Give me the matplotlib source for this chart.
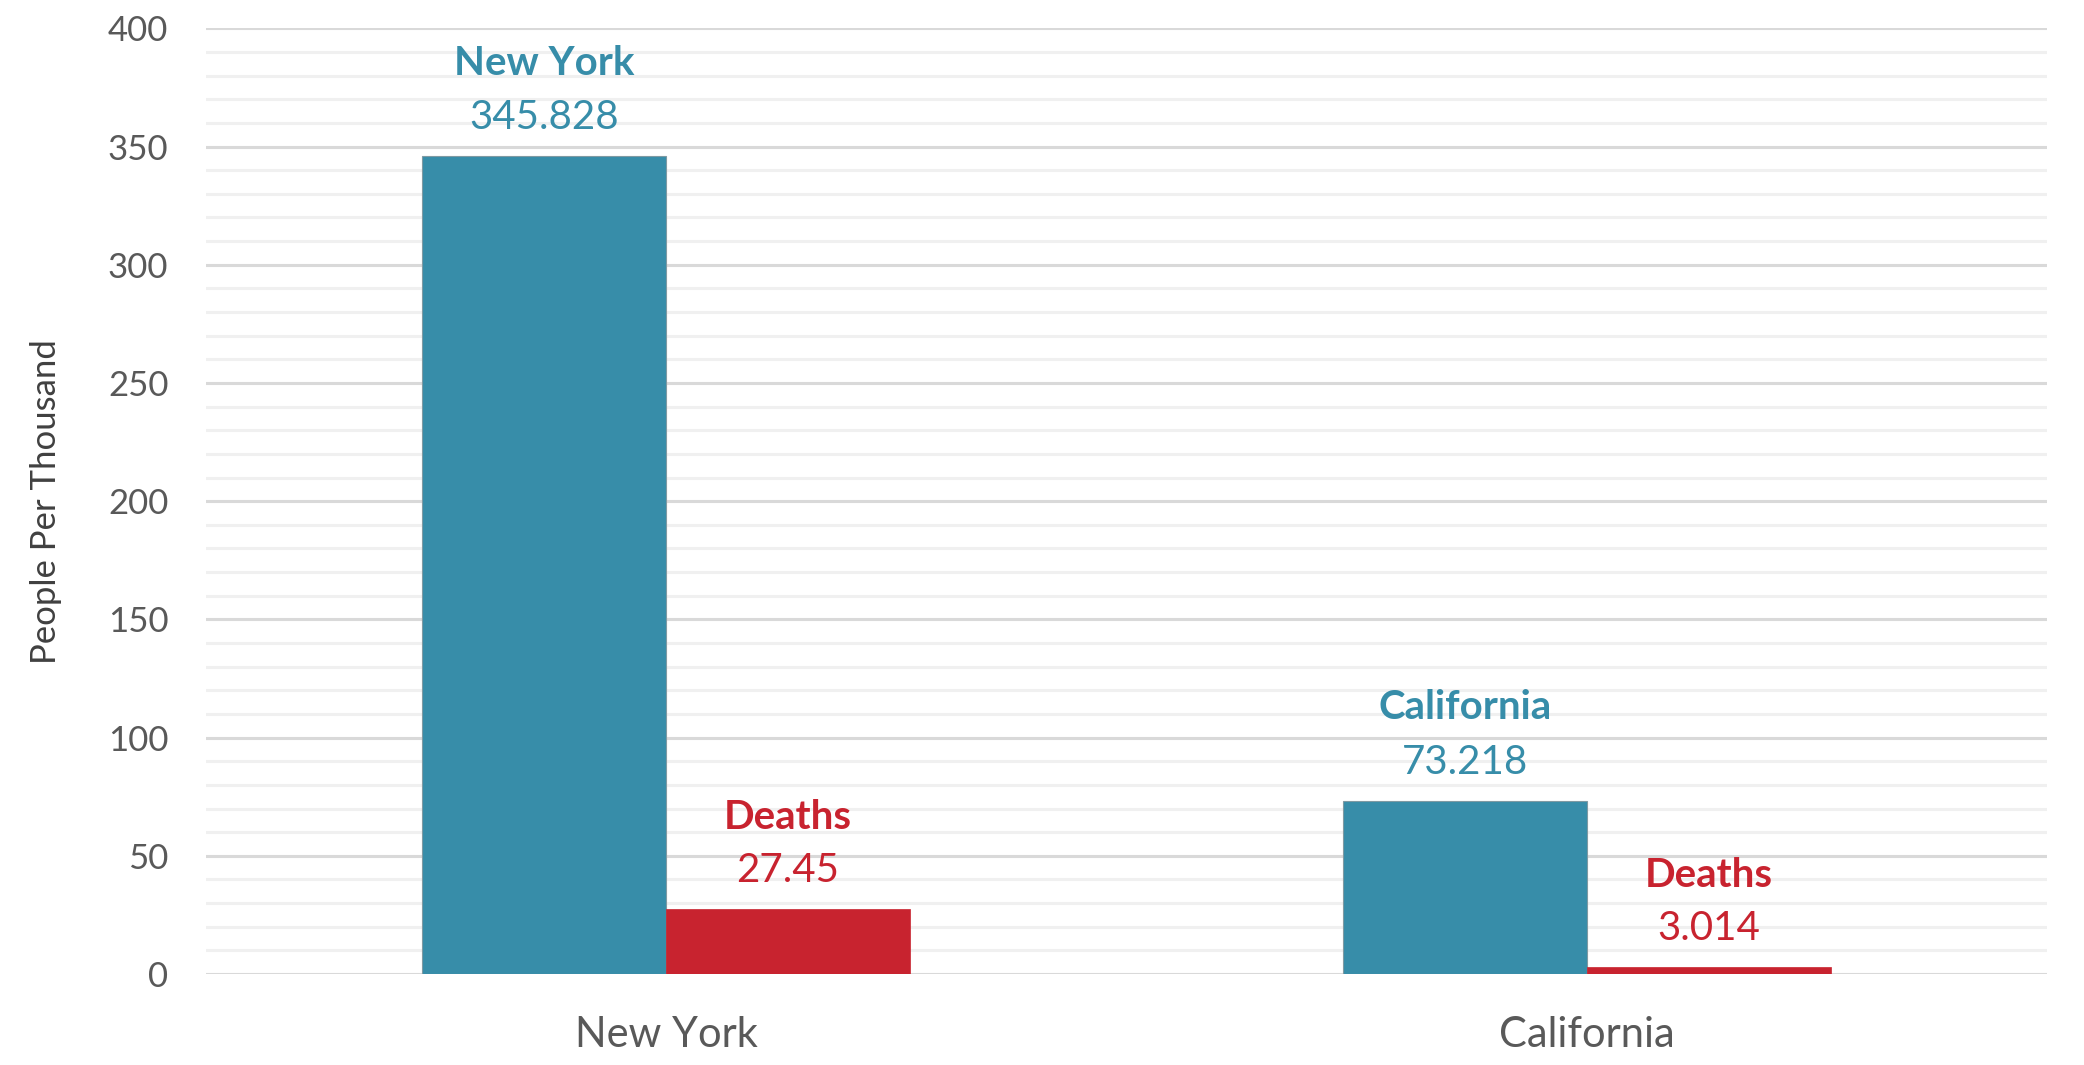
import numpy as np
import matplotlib.pyplot as plt
from matplotlib.ticker import MultipleLocator

states = ['New York', 'California']
cases = [345.828, 73.218]
deaths = [27.45, 3.014]
series_names = ['Deaths']

blue = '#378da9'
red = '#c8232f'
grey_text = '#595959'

plt.rcParams['font.family'] = ['Lato', 'DejaVu Sans']

fig = plt.figure(figsize=(20.84, 10.65), dpi=100)
ax = fig.add_axes([0.0988, 0.0854, 0.8834, 0.888])

x = np.arange(len(states))
w = 0.265
b1 = ax.bar(x - w / 2, cases, w, color=blue, edgecolor='#7f9aa3', linewidth=0.8, zorder=3)
b2 = ax.bar(x + w / 2, deaths, w, color=red, edgecolor=red, linewidth=0.5, zorder=3)

# data labels: name on top, value underneath
lab_size = 29
for rect, name, val in zip(b1, states, cases):
    cx = rect.get_x() + rect.get_width() / 2
    ax.annotate(name, (cx, val), xytext=(0, 67), textcoords='offset points',
                ha='center', va='center', fontsize=lab_size, fontweight='bold', color=blue)
    ax.annotate(f'{val:g}', (cx, val), xytext=(0, 28), textcoords='offset points',
                ha='center', va='center', fontsize=lab_size, color=blue)
for rect, val in zip(b2, deaths):
    cx = rect.get_x() + rect.get_width() / 2
    ax.annotate(series_names[0], (cx, val), xytext=(0, 66), textcoords='offset points',
                ha='center', va='center', fontsize=lab_size, fontweight='bold', color=red)
    ax.annotate(f'{val:g}', (cx, val), xytext=(0, 28), textcoords='offset points',
                ha='center', va='center', fontsize=lab_size, color=red)

ax.set_xlim(-0.5, 1.5)
ax.set_ylim(0, 400)
ax.yaxis.set_major_locator(MultipleLocator(50))
ax.yaxis.set_minor_locator(MultipleLocator(10))
ax.grid(which='major', axis='y', color='#d9d9d9', linewidth=2.2, zorder=0)
ax.grid(which='minor', axis='y', color='#f0f0f0', linewidth=2.2, zorder=0)
ax.set_axisbelow(True)

for s in ax.spines.values():
    s.set_visible(False)

ax.set_xticks(x)
ax.set_xticklabels(states)
ax.tick_params(axis='both', which='both', length=0, labelcolor=grey_text)
ax.tick_params(axis='x', labelsize=30, pad=30)
ax.tick_params(axis='y', labelsize=25, pad=27)

ax.set_ylabel('People Per Thousand', fontsize=25, color='#404040')
ax.yaxis.set_label_coords(-0.078, 0.5)

fig.savefig('out.png', dpi=100, facecolor='white')
